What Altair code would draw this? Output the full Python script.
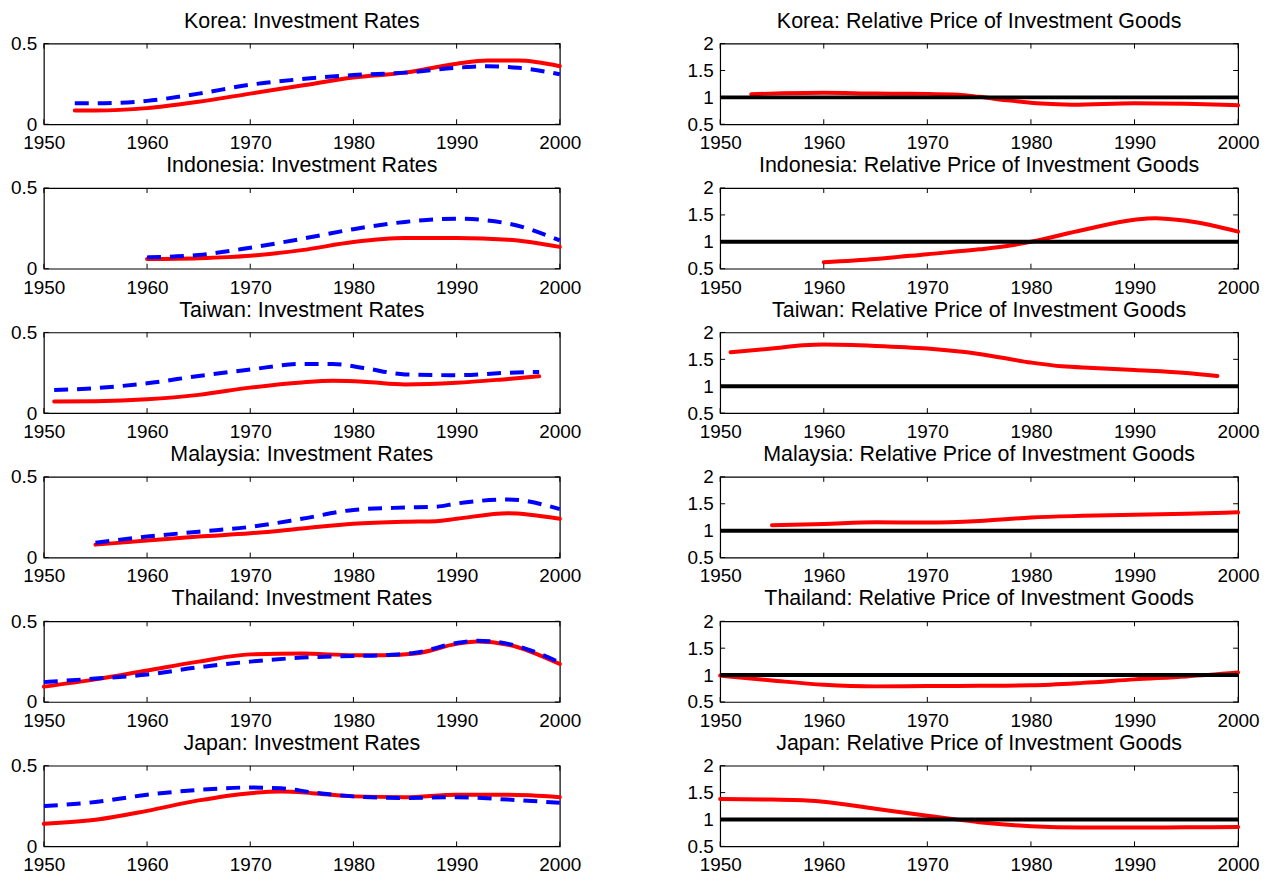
import altair as alt
import pandas as pd

# ---------------- data ----------------
korea_inv_years = [1953, 1955, 1960, 1965, 1970, 1975, 1980, 1985, 1990, 1993, 1996, 2000]
korea_inv_red = [0.085, 0.085, 0.10, 0.14, 0.19, 0.24, 0.29, 0.32, 0.375, 0.395, 0.395, 0.36]
korea_inv_blue = [0.13, 0.13, 0.145, 0.19, 0.245, 0.28, 0.305, 0.32, 0.35, 0.36, 0.35, 0.31]
korea_price_years = [1953, 1956, 1960, 1965, 1970, 1973, 1975, 1978, 1981, 1984, 1990, 1995, 2000]
korea_price_red = [1.06, 1.075, 1.085, 1.07, 1.065, 1.05, 1.01, 0.94, 0.885, 0.865, 0.89, 0.88, 0.855]

indonesia_inv_years = [1960, 1965, 1970, 1975, 1980, 1985, 1990, 1995, 2000]
indonesia_inv_red = [0.06, 0.065, 0.08, 0.115, 0.165, 0.19, 0.19, 0.18, 0.135]
indonesia_inv_blue = [0.07, 0.085, 0.13, 0.185, 0.245, 0.29, 0.31, 0.28, 0.175]
indonesia_price_years = [1960, 1965, 1970, 1975, 1978, 1980, 1985, 1990, 1992, 1995, 2000]
indonesia_price_red = [0.62, 0.68, 0.77, 0.86, 0.93, 1.0, 1.22, 1.41, 1.44, 1.39, 1.19]

taiwan_inv_years = [1951, 1955, 1960, 1965, 1970, 1975, 1978, 1981, 1985, 1990, 1995, 1998]
taiwan_inv_red = [0.072, 0.074, 0.086, 0.113, 0.158, 0.19, 0.20, 0.195, 0.178, 0.188, 0.212, 0.228]
taiwan_inv_blue = [0.143, 0.155, 0.185, 0.23, 0.27, 0.305, 0.305, 0.28, 0.24, 0.235, 0.25, 0.255]
taiwan_price_years = [1951, 1955, 1958, 1960, 1965, 1970, 1975, 1980, 1983, 1986, 1990, 1995, 1998]
taiwan_price_red = [1.63, 1.70, 1.76, 1.775, 1.75, 1.70, 1.60, 1.44, 1.37, 1.34, 1.30, 1.245, 1.19]

malaysia_inv_years = [1955, 1960, 1965, 1970, 1975, 1980, 1985, 1988, 1990, 1995, 2000]
malaysia_inv_red = [0.08, 0.105, 0.13, 0.15, 0.18, 0.21, 0.222, 0.225, 0.24, 0.275, 0.24]
malaysia_inv_blue = [0.092, 0.13, 0.16, 0.19, 0.24, 0.295, 0.31, 0.315, 0.335, 0.36, 0.30]
malaysia_price_years = [1955, 1960, 1965, 1970, 1975, 1980, 1985, 1990, 1995, 2000]
malaysia_price_red = [1.10, 1.125, 1.155, 1.15, 1.18, 1.245, 1.275, 1.295, 1.315, 1.34]

thailand_inv_years = [1950, 1955, 1960, 1965, 1970, 1975, 1980, 1983, 1986, 1990, 1992, 1995, 2000]
thailand_inv_red = [0.095, 0.14, 0.195, 0.25, 0.295, 0.30, 0.29, 0.29, 0.30, 0.36, 0.375, 0.355, 0.235]
thailand_inv_blue = [0.123, 0.145, 0.17, 0.215, 0.25, 0.275, 0.285, 0.29, 0.305, 0.365, 0.38, 0.36, 0.245]
thailand_price_years = [1950, 1955, 1960, 1965, 1970, 1975, 1980, 1985, 1990, 1995, 2000]
thailand_price_red = [0.99, 0.9, 0.82, 0.79, 0.795, 0.80, 0.81, 0.855, 0.92, 0.975, 1.05]

japan_inv_years = [1950, 1955, 1960, 1965, 1970, 1973, 1976, 1980, 1985, 1990, 1995, 2000]
japan_inv_red = [0.14, 0.165, 0.22, 0.285, 0.33, 0.34, 0.33, 0.31, 0.305, 0.32, 0.32, 0.305]
japan_inv_blue = [0.25, 0.275, 0.32, 0.35, 0.365, 0.36, 0.335, 0.31, 0.30, 0.305, 0.29, 0.27]
japan_price_years = [1950, 1955, 1958, 1960, 1965, 1970, 1972, 1975, 1980, 1985, 1990, 1995, 2000]
japan_price_red = [1.38, 1.37, 1.36, 1.33, 1.20, 1.07, 1.02, 0.95, 0.875, 0.85, 0.85, 0.855, 0.86]

reference_level = [1.0]
year_ticks = [1950, 1960, 1970, 1980, 1990, 2000]
inv_ticks = [0, 0.5]
price_ticks = [0.5, 1, 1.5, 2]

countries = ["Korea", "Indonesia", "Taiwan", "Malaysia", "Thailand", "Japan"]
inv_data = {
    "Korea": (korea_inv_years, korea_inv_red, korea_inv_blue),
    "Indonesia": (indonesia_inv_years, indonesia_inv_red, indonesia_inv_blue),
    "Taiwan": (taiwan_inv_years, taiwan_inv_red, taiwan_inv_blue),
    "Malaysia": (malaysia_inv_years, malaysia_inv_red, malaysia_inv_blue),
    "Thailand": (thailand_inv_years, thailand_inv_red, thailand_inv_blue),
    "Japan": (japan_inv_years, japan_inv_red, japan_inv_blue),
}
price_data = {
    "Korea": (korea_price_years, korea_price_red),
    "Indonesia": (indonesia_price_years, indonesia_price_red),
    "Taiwan": (taiwan_price_years, taiwan_price_red),
    "Malaysia": (malaysia_price_years, malaysia_price_red),
    "Thailand": (thailand_price_years, thailand_price_red),
    "Japan": (japan_price_years, japan_price_red),
}

# ---------------- styling ----------------
FONT = "Liberation Sans"
LW, RW, H = 518, 520, 81
TICK = 5
LABEL_FS = 19


def x_enc(field):
    return alt.X(
        field,
        type="quantitative",
        scale=alt.Scale(domain=[1950, 2000], nice=False, zero=False),
        axis=alt.Axis(
            values=year_ticks, format="d", title=None, ticks=False, domain=False,
            grid=False, labelFlush=False, labelOverlap=False, labelPadding=9.5,
            labelFontSize=LABEL_FS, labelFont=FONT, labelColor="black",
        ),
    )


def y_enc(field, domain, ticks):
    return alt.Y(
        field,
        type="quantitative",
        scale=alt.Scale(domain=domain, nice=False, zero=False),
        axis=alt.Axis(
            values=ticks, format=".1~f", title=None, ticks=False, domain=False,
            grid=False, labelFlush=False, labelOverlap=False, labelPadding=7,
            labelFontSize=LABEL_FS, labelFont=FONT, labelColor="black",
        ),
    )


def tick_layers(domain, yticks, width):
    xt = pd.DataFrame({"tx": year_ticks})
    yt = pd.DataFrame({"ty": yticks})
    top = alt.Chart(xt).mark_rule(color="black", strokeWidth=1).encode(
        x=x_enc("tx"), y=alt.value(0), y2=alt.value(TICK))
    bot = alt.Chart(xt).mark_rule(color="black", strokeWidth=1).encode(
        x=x_enc("tx"), y=alt.value(H - TICK), y2=alt.value(H))
    lft = alt.Chart(yt).mark_rule(color="black", strokeWidth=1).encode(
        y=y_enc("ty", domain, yticks), x=alt.value(0), x2=alt.value(TICK))
    rgt = alt.Chart(yt).mark_rule(color="black", strokeWidth=1).encode(
        y=y_enc("ty", domain, yticks), x=alt.value(width - TICK), x2=alt.value(width))
    return [top, bot, lft, rgt]


def title(text):
    return alt.TitleParams(text, fontSize=21.5, font=FONT, fontWeight="normal",
                           anchor="middle", color="black", offset=2.5)


def inv_panel(country):
    years, red, blue = inv_data[country]
    df = pd.DataFrame({"year": years, "red": red, "blue": blue})
    dom = [0, 0.5]
    r = alt.Chart(df).mark_line(color="#ff0000", strokeWidth=4, interpolate="monotone",
                                strokeCap="round").encode(
        x=x_enc("year"), y=y_enc("red", dom, inv_ticks))
    b = alt.Chart(df).mark_line(color="#0000ff", strokeWidth=4, interpolate="monotone",
                                strokeDash=[14, 9]).encode(
        x=x_enc("year"), y=y_enc("blue", dom, inv_ticks))
    return alt.layer(r, b, *tick_layers(dom, inv_ticks, LW)).properties(
        width=LW, height=H, title=title(f"{country}: Investment Rates"))


def price_panel(country):
    years, red = price_data[country]
    df = pd.DataFrame({"year": years, "red": red})
    dom = [0.5, 2]
    r = alt.Chart(df).mark_line(color="#ff0000", strokeWidth=4, interpolate="monotone",
                                strokeCap="round").encode(
        x=x_enc("year"), y=y_enc("red", dom, price_ticks))
    ref = alt.Chart(pd.DataFrame({"lvl": reference_level})).mark_rule(
        color="black", strokeWidth=4).encode(y=y_enc("lvl", dom, price_ticks))
    return alt.layer(r, ref, *tick_layers(dom, price_ticks, RW)).properties(
        width=RW, height=H, title=title(f"{country}: Relative Price of Investment Goods"))


rows = [alt.hconcat(inv_panel(c), price_panel(c), spacing=104) for c in countries]
chart = alt.vconcat(*rows, spacing=0).properties(
    padding={"left": 1, "top": 0, "right": 5, "bottom": 0},
    background="white",
).configure_view(stroke="black", strokeWidth=1.2)

chart.save("out.html", embed_options={"renderer": "svg", "actions": False})
